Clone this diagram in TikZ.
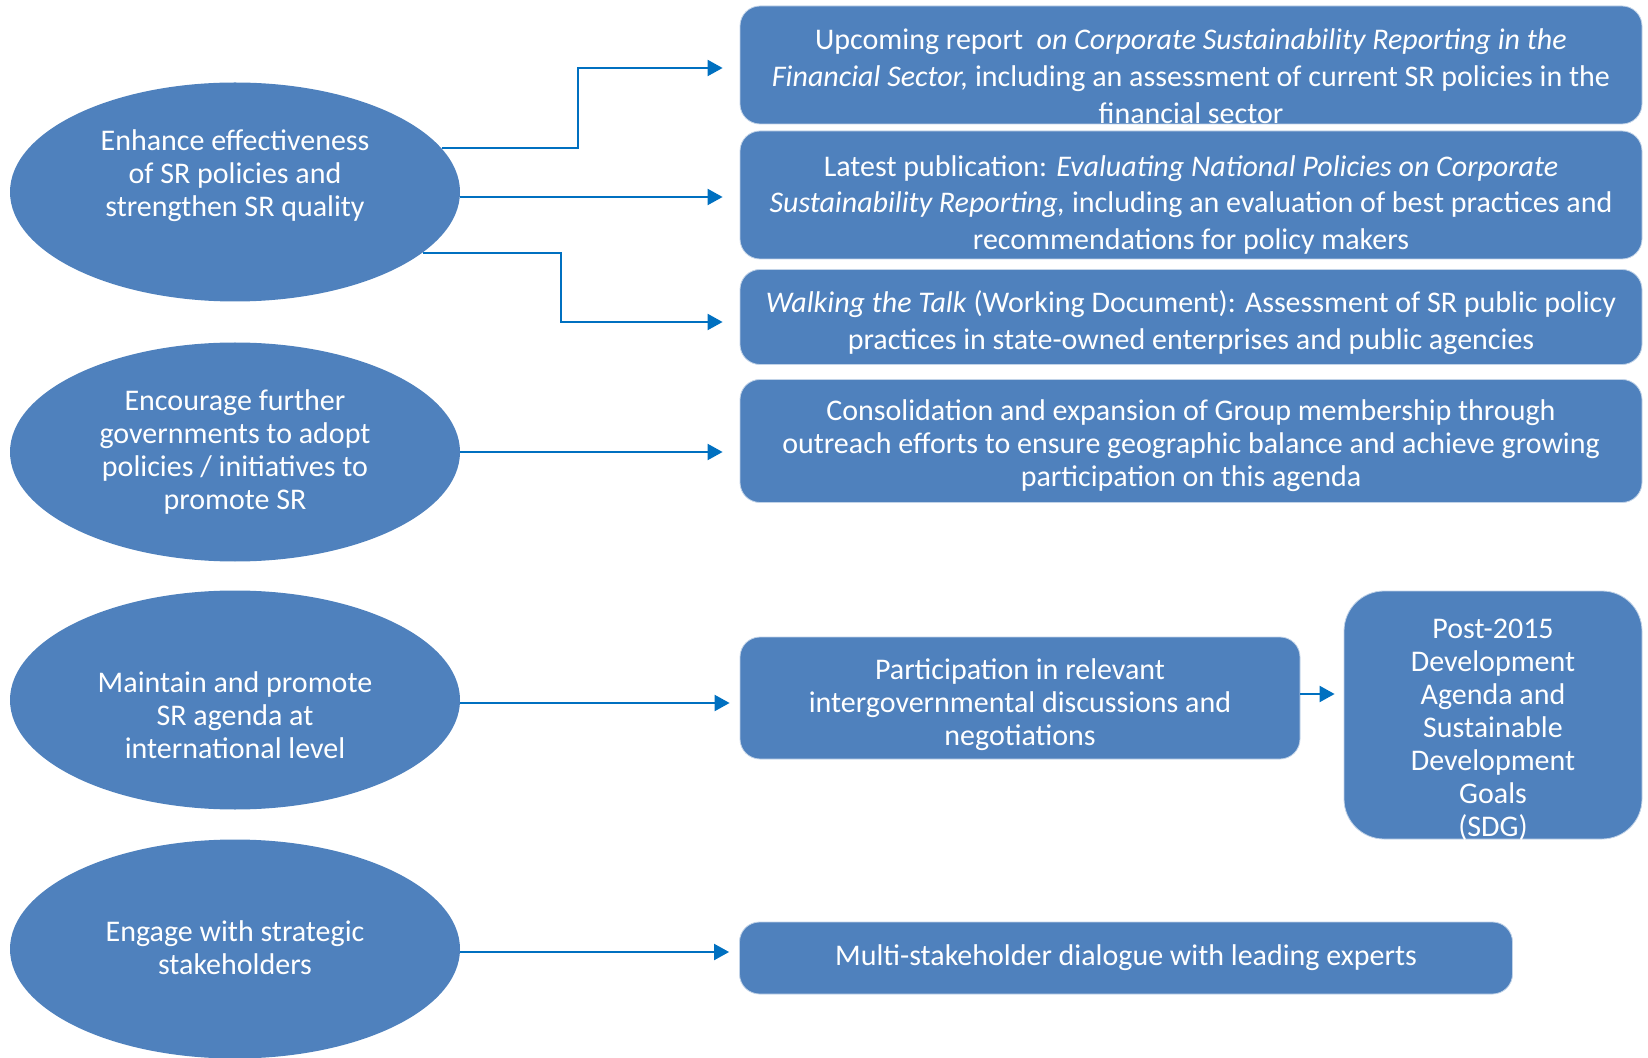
\documentclass[tikz,border=0pt]{standalone}
\usepackage{fontspec}
\setmainfont{Carlito}
\usetikzlibrary{shapes.geometric,arrows.meta}
\definecolor{goalblue}{HTML}{4F81BD}
\definecolor{linkblue}{HTML}{0070C0}

\begin{document}
\begin{tikzpicture}[x=0.5pt,y=-0.5pt,
  goal/.style={ellipse,fill=goalblue,minimum width=225pt,minimum height=109.5pt,inner sep=0pt},
  task/.style={rectangle,rounded corners=10pt,fill=goalblue,draw=goalblue!35!white,line width=0.4pt,inner sep=0pt},
  goaltext/.style={text=white,align=center,inner sep=0pt,font=\fontsize{15}{16.5}\selectfont},
  tasktext/.style={text=white,align=center,inner sep=0pt,font=\fontsize{15}{18.4}\selectfont},
  link/.style={draw=linkblue,line width=1pt,-{Triangle[length=7.5pt,width=8pt]},shorten >=8.5pt}]
\useasboundingbox (0,0) rectangle (1648,1058);
\node[goal] (enhance) at (235,192) {};
\node[goaltext] (enhancetext) at (235,175.5) {Enhance effectiveness\\of SR policies and\\strengthen SR quality};
\node[goal] (encourage) at (235,452) {};
\node[goaltext] (encouragetext) at (235,452) {Encourage further\\governments to adopt\\policies / initiatives to\\promote SR};
\node[goal] (maintain) at (235,700) {};
\node[goaltext] (maintaintext) at (235,715) {Maintain and promote\\SR agenda at\\international level};
\node[goal] (engage) at (235,949) {};
\node[goaltext] (engagetext) at (235,948) {Engage with strategic\\stakeholders};
\node[task,minimum width=451pt,minimum height=59pt] (report) at (1191,65) {};
\node[tasktext] (reporttext) at (1191,76.5) {Upcoming report\ \ \textit{on Corporate Sustainability Reporting in the}\\\textit{Financial Sector,} including an assessment of current SR policies in the\\financial sector};
\node[task,minimum width=451pt,minimum height=64pt] (publication) at (1191,195) {};
\node[tasktext] (publicationtext) at (1191,205) {Latest publication: \textit{Evaluating National Policies on Corporate}\\\textit{Sustainability Reporting,} including an evaluation of best practices and\\recommendations for policy makers};
\node[task,minimum width=451pt,minimum height=47.5pt] (walking) at (1191,317) {};
\node[tasktext] (walkingtext) at (1191,323) {\textit{Walking the Talk} (Working Document): Assessment of SR public policy\\practices in state-owned enterprises and public agencies};
\node[task,minimum width=451pt,minimum height=61.5pt] (membership) at (1191,441) {};
\node[goaltext] (membershiptext) at (1191,446) {Consolidation and expansion of Group membership through\\outreach efforts to ensure geographic balance and achieve growing\\participation on this agenda};
\node[task,minimum width=280pt,minimum height=61pt] (participation) at (1020,698) {};
\node[goaltext] (participationtext) at (1020,705) {Participation in relevant\\intergovernmental discussions and\\negotiations};
\node[task,rounded corners=20pt,minimum width=149pt,minimum height=124pt] (sdg) at (1493,715) {};
\node[goaltext] (sdgtext) at (1493,730) {Post-2015\\Development\\Agenda and\\Sustainable\\Development\\Goals\\(SDG)};
\node[task,minimum width=386.5pt,minimum height=36pt] (dialogue) at (1126,958) {};
\node[goaltext] (dialoguetext) at (1126,958) {Multi-stakeholder dialogue with leading experts};
\draw[link] (enhance.12) -- ++(136,0) |- ([yshift=-1.5pt]report.west);
\draw[link] ([yshift=-1pt]enhance.east |- publication.west) -- ([yshift=-1pt]publication.west);
\draw[link] (enhance.-18) -- ++(138,0) |- ([yshift=-2.5pt]walking.west);
\draw[link] (encourage.east) -- (encourage.east -| membership.west);
\draw[link,shorten >=5pt] ([yshift=-1.5pt]maintain.east) -- ([yshift=-1.5pt]maintain.east -| participation.west);
\draw[link,shorten >=4.5pt] ([yshift=2pt]participation.east) -- ([yshift=2pt]participation.east -| sdg.west);
\draw[link,shorten >=5pt] ([yshift=-1.5pt]engage.east) -- ([yshift=-1.5pt]engage.east -| dialogue.west);
\end{tikzpicture}
\end{document}
